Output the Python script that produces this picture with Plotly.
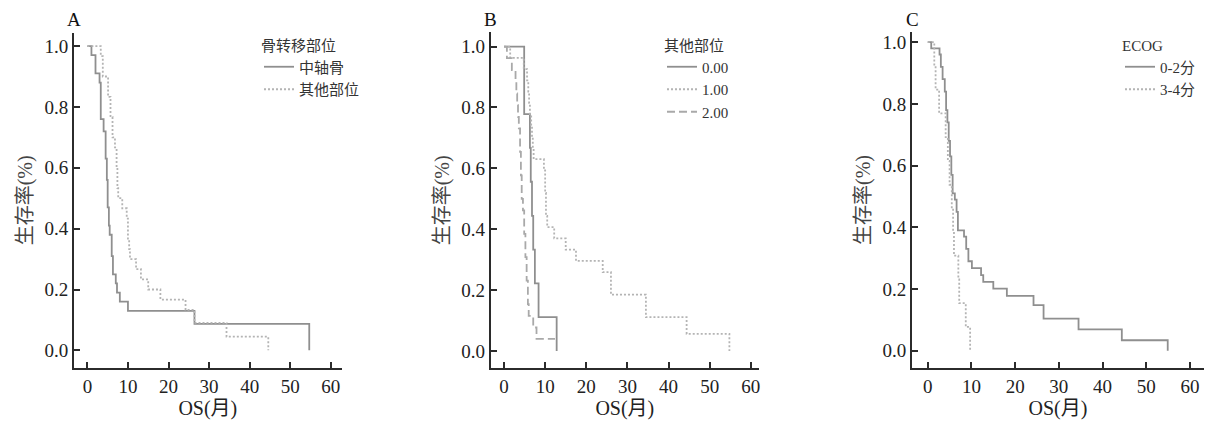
import plotly.graph_objects as go

# ---------------- data (Kaplan-Meier step points: time in months, survival) ----------------
# Panel A: 骨转移部位
a_axial_t = [0, 1.0, 2.0, 3.0, 3.3, 4.0, 4.5, 4.8, 5.0, 5.3, 5.5, 6.0, 6.3, 7.0, 7.3, 8.0, 10.0, 26.4, 54.7]
a_axial_s = [1.0, 0.97, 0.91, 0.88, 0.76, 0.72, 0.63, 0.56, 0.47, 0.41, 0.38, 0.31, 0.25, 0.22, 0.19, 0.16, 0.13, 0.087, 0.0]
a_other_t = [0, 3.3, 3.8, 5.1, 5.7, 6.2, 6.8, 7.2, 7.4, 7.6, 8.6, 9.7, 10.0, 10.3, 10.5, 12.0, 13.2, 15.0, 18.0, 24.2, 26.4, 34.3, 44.6]
a_other_s = [1.0, 0.967, 0.90, 0.833, 0.767, 0.70, 0.667, 0.60, 0.533, 0.50, 0.467, 0.433, 0.367, 0.333, 0.30, 0.267, 0.233, 0.20, 0.167, 0.133, 0.09, 0.045, 0.0]

# Panel B: 其他部位 (0.00 / 1.00 / 2.00)
b_0_t = [0, 4.9, 6.3, 6.5, 6.8, 7.1, 7.5, 8.4, 12.8]
b_0_s = [1.0, 0.778, 0.667, 0.556, 0.444, 0.333, 0.222, 0.111, 0.0]
b_1_t = [0, 1.5, 4.8, 5.6, 5.9, 6.1, 6.3, 6.6, 6.8, 7.0, 7.2, 9.7, 10.0, 10.2, 10.5, 12.2, 15.0, 17.5, 24.0, 26.0, 34.5, 44.4, 54.8]
b_1_s = [1.0, 0.963, 0.926, 0.889, 0.852, 0.815, 0.778, 0.741, 0.704, 0.667, 0.630, 0.593, 0.519, 0.444, 0.407, 0.370, 0.333, 0.296, 0.259, 0.185, 0.111, 0.056, 0.0]
b_2_t = [0, 0.7, 1.9, 2.8, 3.0, 3.2, 3.4, 3.6, 3.9, 4.1, 4.3, 4.6, 4.9, 5.2, 5.5, 5.8, 6.0, 7.1, 7.9, 12.4]
b_2_s = [1.0, 0.962, 0.923, 0.885, 0.846, 0.808, 0.769, 0.731, 0.654, 0.577, 0.50, 0.462, 0.385, 0.308, 0.231, 0.154, 0.115, 0.077, 0.04, 0.04]

# Panel C: ECOG
c_low_t = [0, 0.8, 2.7, 3.0, 3.4, 3.9, 4.2, 4.5, 4.8, 5.1, 5.4, 5.7, 6.2, 6.6, 6.9, 8.3, 8.8, 9.3, 10.1, 12.2, 12.7, 15.0, 18.1, 24.2, 26.5, 34.5, 44.4, 54.9]
c_low_s = [1.0, 0.98, 0.96, 0.92, 0.88, 0.84, 0.78, 0.74, 0.68, 0.63, 0.57, 0.51, 0.49, 0.45, 0.39, 0.37, 0.33, 0.29, 0.268, 0.245, 0.223, 0.201, 0.178, 0.148, 0.104, 0.069, 0.034, 0.0]
c_high_t = [0, 1.5, 1.8, 2.6, 4.1, 4.6, 5.0, 5.5, 5.8, 6.0, 7.0, 7.2, 8.7, 9.7]
c_high_s = [1.0, 0.923, 0.846, 0.769, 0.692, 0.615, 0.538, 0.462, 0.385, 0.308, 0.231, 0.154, 0.077, 0.0]

x_ticks = [0, 10, 20, 30, 40, 50, 60]
y_ticks = [0.0, 0.2, 0.4, 0.6, 0.8, 1.0]
panel_letters = ["A", "B", "C"]
legend_titles = ["骨转移部位", "其他部位", "ECOG"]
x_title = "OS(月)"
y_title = "生存率(%)"

# ---------------- styling ----------------
SERIF = "Liberation Serif, Times New Roman, Noto Sans CJK SC, serif"
SOLID = "#8f8f8f"
DOT = "#b4b4b4"
DASH = "#a9a9a9"
AX = "#2b2b2b"

fig = go.Figure()

def add(t, s, name, color, dash, xa, ya, legend):
    fig.add_trace(go.Scatter(
        x=t, y=s, mode="lines", name=name, line_shape="hv",
        line=dict(color=color, width=1.8, dash=dash),
        xaxis=xa, yaxis=ya, legend=legend, hoverinfo="x+y"))

add(a_axial_t, a_axial_s, "中轴骨", SOLID, "solid", "x", "y", "legend")
add(a_other_t, a_other_s, "其他部位", DOT, "2px,2px", "x", "y", "legend")
add(b_0_t, b_0_s, "0.00", SOLID, "solid", "x2", "y2", "legend2")
add(b_1_t, b_1_s, "1.00", DOT, "2px,2px", "x2", "y2", "legend2")
add(b_2_t, b_2_s, "2.00", DASH, "8px,4px", "x2", "y2", "legend2")
add(c_low_t, c_low_s, "0-2分", SOLID, "solid", "x3", "y3", "legend3")
add(c_high_t, c_high_s, "3-4分", DOT, "2px,2px", "x3", "y3", "legend3")

# panel geometry (paper fractions)
W, H = 1207, 423
panels = [
    dict(xd=[74 / W, 341.7 / W], yd=[1 - 367.7 / H, 1 - 33 / H], xr=[-3.3, 62.7], yr=[-0.057, 1.043]),
    dict(xd=[490.7 / W, 759 / W], yd=[1 - 368.3 / H, 1 - 32.3 / H], xr=[-3.24, 62.0], yr=[-0.057, 1.047]),
    dict(xd=[912 / W, 1204 / W], yd=[1 - 367.7 / H, 1 - 32.3 / H], xr=[-3.6, 63.2], yr=[-0.055, 1.032]),
]

layout = dict(
    width=W, height=H, margin=dict(l=0, r=0, t=0, b=0),
    paper_bgcolor="white", plot_bgcolor="white",
    font=dict(family=SERIF, size=19, color="#222"),
    showlegend=True,
)

axis_common = dict(
    showline=True, linecolor=AX, linewidth=2, ticks="inside", ticklen=6,
    tickcolor=AX, tickwidth=1.5, showgrid=False, zeroline=False,
    tickfont=dict(family=SERIF, size=19, color="#222"),
)

legend_pos = [(259 / W, 1 - 31 / H), (662 / W, 1 - 31 / H), (1120 / W, 1 - 31 / H)]

annotations = []
for i, p in enumerate(panels):
    sx = "" if i == 0 else str(i + 1)
    layout["xaxis" + sx] = dict(axis_common, domain=p["xd"], range=p["xr"], tickvals=x_ticks,
                                anchor="y" + sx,
                                title=dict(text=x_title, font=dict(family=SERIF, size=20, color="#222"), standoff=0))
    layout["yaxis" + sx] = dict(axis_common, domain=p["yd"], range=p["yr"], tickvals=y_ticks,
                                tickformat=".1f", anchor="x" + sx,
                                title=dict(text=y_title, font=dict(family=SERIF, size=20, color="#444"), standoff=6))
    layout["legend" + ("" if i == 0 else str(i + 1))] = dict(
        x=legend_pos[i][0], y=legend_pos[i][1], xanchor="left", yanchor="top",
        bgcolor="rgba(0,0,0,0)", itemwidth=30, tracegroupgap=0,
        font=dict(family=SERIF, size=15, color="#333"),
        title=dict(text=legend_titles[i], font=dict(family=SERIF, size=15, color="#333")),
    )
    annotations.append(dict(text=panel_letters[i], xref="paper", yref="paper",
                            x=p["xd"][0], y=1 - 20 / H, xanchor="center", yanchor="middle",
                            showarrow=False, font=dict(family=SERIF, size=19, color="#111")))

layout["annotations"] = annotations
fig.update_layout(**layout)
fig.write_html("out.html", config={"displayModeBar": False},
               post_script="document.body.style.margin='0';document.body.style.overflow='hidden';")
